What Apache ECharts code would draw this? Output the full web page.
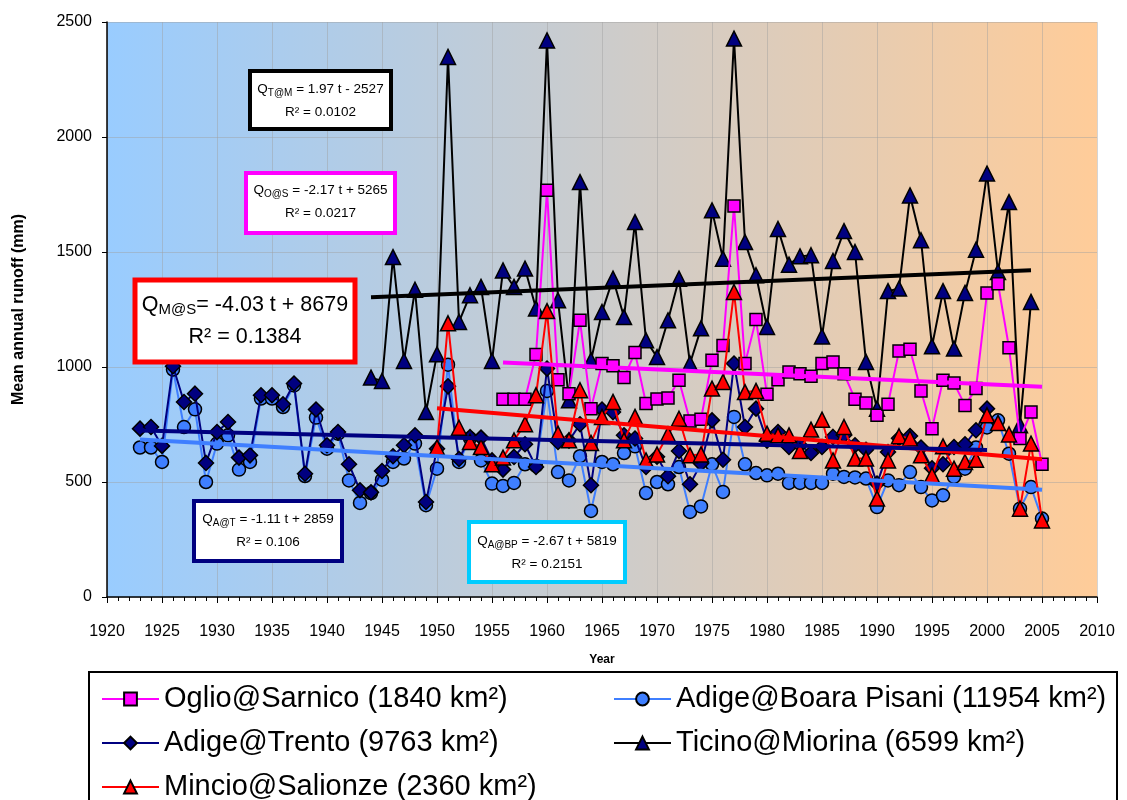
<!DOCTYPE html>
<html>
<head>
<meta charset="utf-8">
<script src="https://cdn.jsdelivr.net/npm/echarts@6/dist/echarts.min.js"></script>
<style>html,body{margin:0;padding:0;background:#fff}#c{width:1127px;height:800px}</style>
</head>
<body>
<div id="c"></div>
<script>
// ---- DATA ----
const years = [1923,1924,1925,1926,1927,1928,1929,1930,1931,1932,1933,1934,1935,1936,1937,1938,1939,1940,1941,1942,1943,1944,1945,1946,1947,1948,1949,1950,1951,1952,1953,1954,1955,1956,1957,1958,1959,1960,1961,1962,1963,1964,1965,1966,1967,1968,1969,1970,1971,1972,1973,1974,1975,1976,1977,1978,1979,1980,1981,1982,1983,1984,1985,1986,1987,1988,1989,1990,1991,1992,1993,1994,1995,1996,1997,1998,1999,2000,2001,2002,2003,2004,2005];

// Adige@Boara Pisani 1923-2005
const boaraValues = [650,650,587,989,739,816,500,667,703,554,587,863,863,826,920,526,780,645,710,507,409,452,510,587,602,667,399,558,1010,587,690,594,493,483,496,577,570,896,543,507,612,374,587,577,626,655,452,500,490,565,370,394,577,457,783,577,539,529,536,496,496,496,496,536,522,520,515,391,507,486,543,478,420,442,522,558,650,737,768,623,384,478,341];
// Adige@Trento 1923-2000
const trentoValues = [732,739,657,1003,848,884,583,717,761,606,616,877,877,838,928,536,815,660,717,577,464,455,548,612,660,703,413,645,916,600,695,693,594,554,609,664,565,993,674,680,751,486,815,804,703,689,565,610,525,635,490,580,768,597,1015,739,819,680,717,652,660,626,652,696,703,660,640,493,630,690,700,650,560,577,652,664,725,819];
// Ticino@Miorina 1944-2004
const ticinoValues = [954,939,1478,1026,1336,804,1055,2348,1196,1312,1348,1026,1420,1348,1428,1254,2420,1290,855,1804,1029,1239,1384,1217,1630,1116,1043,1203,1384,1015,1168,1681,1471,2428,1543,1399,1174,1600,1445,1481,1486,1133,1461,1591,1500,1022,819,1330,1341,1746,1551,1090,1330,1080,1322,1510,1841,1413,1717,747,1283];
// Oglio@Sarnico 1956-2005
const oglioValues = [860,860,860,1054,1768,945,884,1203,819,1015,1005,954,1063,841,861,865,942,765,773,1029,1094,1700,1015,1206,881,945,978,971,960,1015,1022,971,860,844,790,838,1070,1077,896,732,942,930,833,906,1322,1362,1084,689,804,577];
// Mincio@Salionze 1950-2005
const mincioValues = [650,1190,736,674,652,577,606,681,751,877,1243,710,681,899,670,783,848,681,783,594,620,707,775,616,620,906,935,1326,891,896,710,703,703,635,728,771,594,739,602,602,428,594,699,689,616,529,655,558,587,597,790,757,707,384,667,333];

// Linear trend end points [year, value]
const trendTicino = [[1944,1303],[2004,1421]];
const trendOglio  = [[1956,1020],[2005,914]];
const trendMincio = [[1950,821],[2005,599]];
const trendTrento = [[1923,724],[2000,639]];
const trendBoara  = [[1923,685],[2005,466]];

const names = ['Oglio@Sarnico (1840 km²)','Adige@Boara Pisani (11954 km²)','Adige@Trento (9763 km²)','Ticino@Miorina (6599 km²)','Mincio@Salionze (2360 km²)'];

function pairs(startYear, vals){
  const s = years.indexOf(startYear);
  return vals.map((v,i)=>[years[s+i], v]);
}

const C = {oglio:'#FF00FF', boara:'#3F7FFF', trento:'#000080', ticino:'#000000', mincio:'#FF0000'};

const chart = echarts.init(document.getElementById('c'), null, {renderer:'canvas'});

function lineSeries(name, data, lineColor, symbol, fill, size, z){
  return {
    name, type:'line', data, symbol, symbolSize:size, z,
    lineStyle:{color:lineColor, width:2},
    itemStyle:{color:fill, borderColor:'#000', borderWidth:1.5},
    emphasis:{disabled:true}, animation:false
  };
}
function trend(data, color, z){
  return {type:'line', data, symbol:'none', z, silent:true, animation:false,
    lineStyle:{color, width:4}};
}

function box(x,y,w,h,color,lw,line1,line2,fs,subfs,y1,y2){
  return [
    {type:'rect', shape:{x,y,width:w,height:h}, style:{fill:'#fff', stroke:color, lineWidth:lw}, z:50},
    {type:'text', x:x+w/2, y:y1, z:51, style:{
      text: line1, align:'center', verticalAlign:'middle',
      rich:{n:{fontFamily:'Arial, Liberation Sans', fontSize:fs, lineHeight:fs+4, verticalAlign:'middle', fill:'#000'},
            s:{fontFamily:'Arial, Liberation Sans', fontSize:subfs, lineHeight:fs+4, verticalAlign:'bottom', fill:'#000'}}
    }},
    {type:'text', x:x+w/2, y:y2, z:51, style:{
      text: line2, align:'center', verticalAlign:'middle', fill:'#000',
      font: fs+'px Arial, Liberation Sans'
    }}
  ];
}

const gfx = [].concat(
  box(250,71,141,58,'#000000',4,'{n|Q}{s|T@M}{n| = 1.97 t - 2527}','R² = 0.0102',13.5,10,89,112),
  box(246,173,149,60,'#FF00FF',4,'{n|Q}{s|O@S}{n| = -2.17 t + 5265}','R² = 0.0217',13.5,10,190,213),
  box(135,280,220,82,'#FF0000',5,'{n|Q}{s|M@S}{n|= -4.03 t + 8679}','R² = 0.1384',21.5,15,305,337),
  box(194,501,148,60,'#000080',4,'{n|Q}{s|A@T}{n| = -1.11 t + 2859}','R² = 0.106',13.5,10,519,542),
  box(469,522,156,60,'#00CCFF',4,'{n|Q}{s|A@BP}{n| = -2.67 t + 5819}','R² = 0.2151',13.5,10,541,564),
  [{type:'rect', shape:{x:89,y:672,width:1028,height:140}, style:{fill:'#fff', stroke:'#000', lineWidth:2}, z:-1}]
);

const legendText = {fontFamily:'Arial, Liberation Sans', fontSize:29, color:'#000', lineHeight:30};
const plain = v => String(v);

chart.setOption({
  animation:false,
  textStyle:{fontFamily:'Arial, Liberation Sans'},
  grid:{left:107, right:30, top:22, bottom:203, show:true, borderWidth:0,
    backgroundColor: new echarts.graphic.LinearGradient(0,0,1,0,[
      {offset:0,color:'#99CCFF'},{offset:1,color:'#FFCC99'}])},
  xAxis:{type:'value', min:1920, max:2010, interval:5,
    name:'Year', nameLocation:'middle', nameGap:57,
    nameTextStyle:{fontSize:12, fontWeight:'bold', color:'#000'},
    axisLine:{show:true, onZero:false, lineStyle:{color:'#000', width:1.5}},
    axisTick:{show:true, inside:false, length:6, lineStyle:{color:'#000'}},
    minorTick:{show:true, splitNumber:5, length:4, lineStyle:{color:'#000'}},
    axisLabel:{fontSize:16, color:'#000', margin:27, formatter:plain},
    splitLine:{show:true, lineStyle:{color:'rgba(160,160,160,0.45)', width:1}}},
  yAxis:{type:'value', min:0, max:2500, interval:500,
    name:'Mean annual runoff (mm)', nameLocation:'middle', nameGap:80,
    nameTextStyle:{fontSize:16, fontWeight:'bold', color:'#000'},
    axisLine:{show:true, lineStyle:{color:'#000', width:1.5}},
    axisTick:{show:true, inside:false, length:5, lineStyle:{color:'#000'}},
    axisLabel:{fontSize:16, color:'#000', margin:15, formatter:plain},
    splitLine:{show:true, lineStyle:{color:'rgba(160,160,160,0.45)', width:1}}},
  legend:[
    {data:[names[0],names[2],names[4]], orient:'vertical', left:101, top:684, itemGap:14, padding:0,
     height:130, itemWidth:57, itemHeight:16, textStyle:legendText, selectedMode:false},
    {data:[names[1],names[3]], orient:'vertical', left:613, top:684, itemGap:14, padding:0,
     height:130, itemWidth:57, itemHeight:16, textStyle:legendText, selectedMode:false}
  ],
  graphic: gfx,
  series:[
    lineSeries(names[1], pairs(1923, boaraValues), C.boara, 'circle', '#3F7FFF', 13, 2),
    lineSeries(names[2], pairs(1923, trentoValues), C.trento, 'diamond', '#000080', 15, 3),
    lineSeries(names[3], pairs(1944, ticinoValues), C.ticino, 'triangle', '#000080', 15, 4),
    lineSeries(names[0], pairs(1956, oglioValues), C.oglio, 'rect', '#FF00FF', 12, 5),
    lineSeries(names[4], pairs(1950, mincioValues), C.mincio, 'triangle', '#FF0000', 15, 6),
    trend(trendTicino, '#000000', 7),
    trend(trendOglio, '#FF00FF', 7),
    trend(trendMincio, '#FF0000', 7),
    trend(trendTrento, '#000080', 7),
    trend(trendBoara, '#3F7FFF', 7)
  ]
});
</script>
</body>
</html>
